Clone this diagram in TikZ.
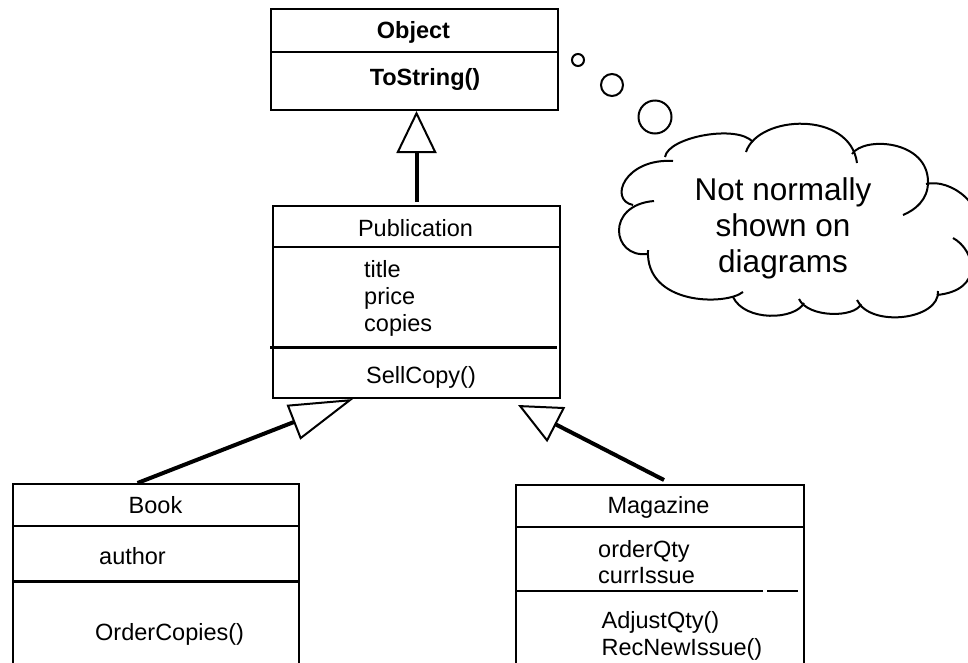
\documentclass[tikz,border=0pt]{standalone}
\usepackage{fontspec}
\setmainfont{Liberation Sans}
\usetikzlibrary{arrows.meta}
\begin{document}
\begin{tikzpicture}[x=1pt,y=-1pt,
  classbox/.style={draw, line width=2pt, rectangle, inner sep=0pt, anchor=north west},
  divthin/.style={line width=1.2pt},
  divthick/.style={line width=3pt},
  lbl/.style={font=\fontsize{23.5}{27}\selectfont, inner sep=0pt, anchor=base},
  lblb/.style={font=\fontsize{23.5}{27}\selectfont\bfseries, inner sep=0pt, anchor=base},
  lblw/.style={lbl, anchor=base west},
  cloudtxt/.style={font=\fontsize{31.5}{36.5}\selectfont, inner sep=0pt, anchor=base},
  gen/.style={line width=4pt},
  cloudline/.style={line width=2pt},
]
\useasboundingbox (0,0) rectangle (968,662);

% ---------- Object ----------
\node[classbox, minimum width=287pt, minimum height=101pt] (obj) at (270,8) {};
\draw[divthin] (270,52) -- (557,52);
\node[lblb] (objname) at (413.5,38) {Object};
\node[lblb] (objop) at (425,85) {ToString()};

% ---------- Publication ----------
\node[classbox, minimum width=287pt, minimum height=192pt] (pub) at (272,205) {};
\draw[divthin] (272,247) -- (559,247);
\draw[divthick] (270,347) -- (557,347);
\node[lbl] (pubname) at (415.5,236) {Publication};
\node[lblw] (pubat1) at (364,277) {title};
\node[lblw] (pubat2) at (364,304) {price};
\node[lblw] (pubat3) at (364,331) {copies};
\node[lblw] (pubop1) at (366,383) {SellCopy()};

% ---------- Book ----------
\node[classbox, minimum width=286pt, minimum height=250pt] (book) at (12,483) {};
\draw[divthin] (12,526) -- (298,526);
\draw[divthick] (12,581) -- (298,581);
\node[lbl] (bookname) at (155.5,513) {Book};
\node[lblw] (bookat1) at (99,564) {author};
\node[lblw] (bookop1) at (95,640) {OrderCopies()};

% ---------- Magazine ----------
\node[classbox, minimum width=288pt, minimum height=250pt] (mag) at (515,484) {};
\draw[line width=2pt] (515,527) -- (803,527);
\draw[divthin] (515,591) -- (763,591);
\draw[divthin] (767,591) -- (798,591);
\node[lbl] (magname) at (658.5,513) {Magazine};
\node[lblw] (magat1) at (598,557) {orderQty};
\node[lblw] (magat2) at (598,583.5) {currIssue};
\node[lblw] (magop1) at (601.5,628) {AdjustQty()};
\node[lblw] (magop2) at (601.5,655) {RecNewIssue()};

% ---------- generalisation connectors ----------
\draw[gen, -{Triangle[open, length=42pt, width=40pt, line width=2pt]}]
  ([yshift=3pt]pub.north) -- (pub.north |- obj.south);
\draw[gen, -{Triangle[open, length=64pt, width=37pt, line width=2pt]}]
  ([xshift=-18.5pt]book.north) -- ([xshift=-63.5pt]pub.south);
\draw[gen, -{Triangle[open, length=43pt, width=39pt, line width=2pt]}]
  ([xshift=4pt, yshift=4pt]mag.north) -- ([xshift=101.5pt, yshift=-6pt]pub.south);

% ---------- thought bubbles ----------
\draw[cloudline] (578,60) circle[radius=6pt];
\draw[cloudline] (612,85) circle[radius=11pt];
\draw[cloudline] (655,117) circle[radius=16.5pt];

% ---------- cloud ----------
\draw[cloudline] (665,157) .. controls (668,137) and (737,124) .. (753,142);
\draw[cloudline] (746,152) .. controls (758,115) and (850,110) .. (857,163);
\draw[cloudline] (852,154) .. controls (864,136) and (928,140) .. (928,182)
                 .. controls (928,200) and (915,210) .. (903,215);
\draw[cloudline] (926,184) .. controls (950,178) and (990,205) .. (978,245);
\draw[cloudline] (953,238) .. controls (975,250) and (985,290) .. (937,295);
\draw[cloudline] (938,291) .. controls (940,320) and (870,328) .. (857,300);
\draw[cloudline] (861,304) .. controls (855,318) and (808,318) .. (799,299);
\draw[cloudline] (804,303) .. controls (795,320) and (745,322) .. (733,297);
\draw[cloudline] (743,292) .. controls (725,306) and (645,305) .. (648,250);
\draw[cloudline] (647,254) .. controls (612,258) and (605,205) .. (654,201);
\draw[cloudline] (633,205) .. controls (608,200) and (625,158) .. (673,161);

\node[cloudtxt] (c1) at (783,200) {Not normally};
\node[cloudtxt] (c2) at (783,236.7) {shown on};
\node[cloudtxt] (c3) at (783,272.7) {diagrams};
\end{tikzpicture}
\end{document}
